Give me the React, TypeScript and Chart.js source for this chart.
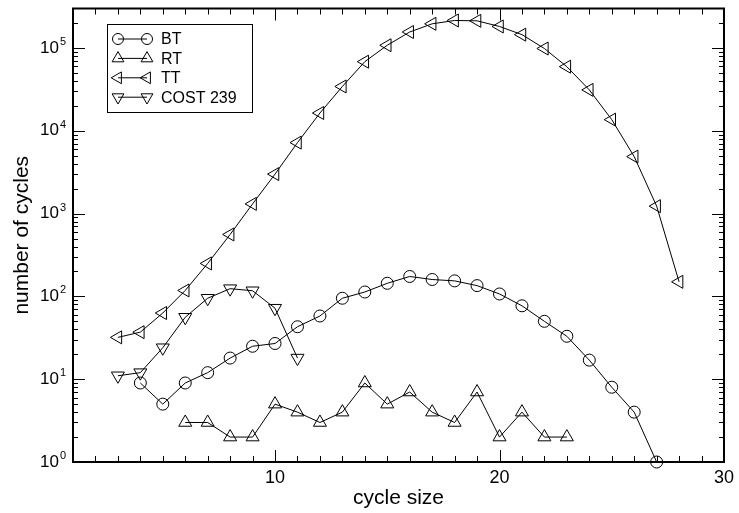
import { useEffect, useRef } from 'react';
import { Chart, registerables } from 'chart.js';
import { drawPoint } from 'chart.js/helpers';

Chart.register(...registerables);

const FONT = '"Liberation Sans", Arial, Helvetica, sans-serif';

// ---- data ----
const btSizes = [4, 5, 6, 7, 8, 9, 10, 11, 12, 13, 14, 15, 16, 17, 18, 19, 20, 21, 22, 23, 24, 25, 26, 27];
const btCounts = [9, 5, 9, 12, 18, 25, 27, 43, 58, 95, 113, 144, 174, 160, 154, 135, 107, 77, 50, 33, 17, 8, 4, 1];

const rtSizes = [6, 7, 8, 9, 10, 11, 12, 13, 14, 15, 16, 17, 18, 19, 20, 21, 22, 23];
const rtCounts = [3, 3, 2, 2, 5, 4, 3, 4, 9, 5, 7, 4, 3, 7, 2, 4, 2, 2];

const ttSizes = [3, 4, 5, 6, 7, 8, 9, 10, 11, 12, 13, 14, 15, 16, 17, 18, 19, 20, 21, 22, 23, 24, 25, 26, 27, 28];
const ttCounts = [32, 37, 63, 118, 250, 560, 1310, 3000, 7200, 16400, 34300, 68400, 108000, 156000, 196000, 215000, 213000, 182000, 145000, 98600, 59500, 31200, 13650, 4880, 1230, 150];

const costSizes = [3, 4, 5, 6, 7, 8, 9, 10, 11];
const costCounts = [11, 12, 24, 56, 95, 124, 117, 72, 18];

const seriesNames = ['BT', 'RT', 'TT', 'COST 239'];
const xTickLabels = [10, 20, 30];
const yDecades = [0, 1, 2, 3, 4, 5];
const xMin = 1;
const xMax = 30;
const yMin = 1;
const yMax = 300000;

const markerStyles = [
  { pointStyle: 'circle', rotation: 0, radius: 6 },
  { pointStyle: 'triangle', rotation: 0, radius: 7.5 },
  { pointStyle: 'triangle', rotation: -90, radius: 7.5 },
  { pointStyle: 'triangle', rotation: 180, radius: 7.5 },
];

function toPoints(xs: number[], ys: number[]) {
  return xs.map((x, i) => ({ x, y: ys[i] }));
}

const framePlugin = {
  id: 'frameTicks',
  afterDraw(chart: any) {
    const { ctx, chartArea } = chart;
    const { left, right, top, bottom } = chartArea;
    const xs = chart.scales.x;
    const ys = chart.scales.y;
    ctx.save();
    ctx.strokeStyle = '#000';
    // ticks
    ctx.lineWidth = 1;
    ctx.beginPath();
    for (let v = xMin + 1; v < xMax; v++) {
      const px = Math.round(xs.getPixelForValue(v)) + 0.5;
      const len = v % 10 === 0 ? 12 : 6;
      ctx.moveTo(px, bottom);
      ctx.lineTo(px, bottom - len);
      ctx.moveTo(px, top);
      ctx.lineTo(px, top + len);
    }
    for (const e of yDecades) {
      const base = Math.pow(10, e);
      for (let m = 1; m <= 9; m++) {
        const v = base * m;
        if (v <= yMin || v >= yMax) continue;
        const py = Math.round(ys.getPixelForValue(v)) + 0.5;
        const len = m === 1 ? 12 : 5;
        ctx.moveTo(left, py);
        ctx.lineTo(left + len, py);
        ctx.moveTo(right, py);
        ctx.lineTo(right - len, py);
      }
    }
    ctx.stroke();
    // frame
    ctx.lineWidth = 2;
    ctx.strokeRect(left, top, right - left, bottom - top);

    // y tick labels with superscripts
    ctx.fillStyle = '#000';
    ctx.textBaseline = 'middle';
    for (const e of yDecades) {
      const py = ys.getPixelForValue(Math.pow(10, e));
      ctx.font = `17px ${FONT}`;
      ctx.textAlign = 'right';
      const expX = left - 14;
      ctx.fillText('10', expX, py);
      ctx.font = `11px ${FONT}`;
      ctx.textAlign = 'left';
      ctx.fillText(String(e), expX + 1, py - 6);
    }

    // legend
    const bx = 107, by = 24, bw = 145, bh = 88;
    ctx.lineWidth = 1;
    ctx.strokeRect(bx + 0.5, by + 0.5, bw, bh);
    seriesNames.forEach((name, i) => {
      const y = 39 + i * 19.4;
      ctx.beginPath();
      ctx.moveTo(118, y);
      ctx.lineTo(147, y);
      ctx.stroke();
      const ms = markerStyles[i];
      ctx.fillStyle = 'rgba(0,0,0,0)';
      const r = ms.pointStyle === 'circle' ? 5.5 : 6.8;
      drawPoint(ctx, { pointStyle: ms.pointStyle, rotation: ms.rotation, radius: r, borderWidth: 1 } as any, 118, y);
      drawPoint(ctx, { pointStyle: ms.pointStyle, rotation: ms.rotation, radius: r, borderWidth: 1 } as any, 147, y);
      ctx.fillStyle = '#000';
      ctx.font = `16px ${FONT}`;
      ctx.textAlign = 'left';
      ctx.textBaseline = 'middle';
      ctx.fillText(name, 161, y + 1);
    });
    ctx.restore();
  },
};

export default function App() {
  const ref = useRef<HTMLCanvasElement | null>(null);
  useEffect(() => {
    document.body.style.margin = '0';
    const canvas = ref.current;
    if (!canvas) return;
    const mk = (i: number, xs: number[], ys: number[]) => ({
      label: seriesNames[i],
      data: toPoints(xs, ys),
      borderColor: '#000',
      borderWidth: 1,
      pointStyle: markerStyles[i].pointStyle,
      pointRotation: markerStyles[i].rotation,
      pointRadius: markerStyles[i].radius,
      pointBorderColor: '#000',
      pointBackgroundColor: 'rgba(0,0,0,0)',
      pointBorderWidth: 1,
      fill: false,
      tension: 0,
      clip: false as any,
    });
    const chart = new Chart(canvas, {
      type: 'line',
      data: {
        datasets: [
          mk(0, btSizes, btCounts),
          mk(1, rtSizes, rtCounts),
          mk(2, ttSizes, ttCounts),
          mk(3, costSizes, costCounts),
        ] as any,
      },
      options: {
        animation: false,
        responsive: false,
        maintainAspectRatio: false,
        layout: { padding: { top: 4, right: 11, left: 0, bottom: 0 } },
        plugins: { legend: { display: false }, tooltip: { enabled: false } },
        scales: {
          x: {
            type: 'linear',
            min: xMin,
            max: xMax,
            afterBuildTicks: (s: any) => {
              s.ticks = xTickLabels.map((v) => ({ value: v }));
            },
            afterFit: (s: any) => {
              s.height = 51;
            },
            grid: { display: false, drawTicks: false },
            border: { display: false },
            ticks: {
              font: { family: FONT, size: 18 },
              color: '#000',
              padding: 5,
              maxRotation: 0,
              autoSkip: false,
            },
            title: {
              display: true,
              text: 'cycle size',
              font: { family: FONT, size: 21 },
              color: '#000',
              padding: { top: 0, bottom: 2 },
            },
          },
          y: {
            type: 'logarithmic',
            min: yMin,
            max: yMax,
            afterFit: (s: any) => {
              s.width = 73;
            },
            grid: { display: false, drawTicks: false },
            border: { display: false },
            ticks: { display: false },
            title: {
              display: true,
              text: 'number of cycles',
              font: { family: FONT, size: 21 },
              color: '#000',
              padding: { top: 10, bottom: 0 },
            },
          },
        },
      } as any,
      plugins: [framePlugin],
    });
    return () => chart.destroy();
  }, []);
  return (
    <div style={{ width: 739, height: 513 }}>
      <canvas ref={ref} width={739} height={513} style={{ display: 'block', width: 739, height: 513 }} />
    </div>
  );
}
